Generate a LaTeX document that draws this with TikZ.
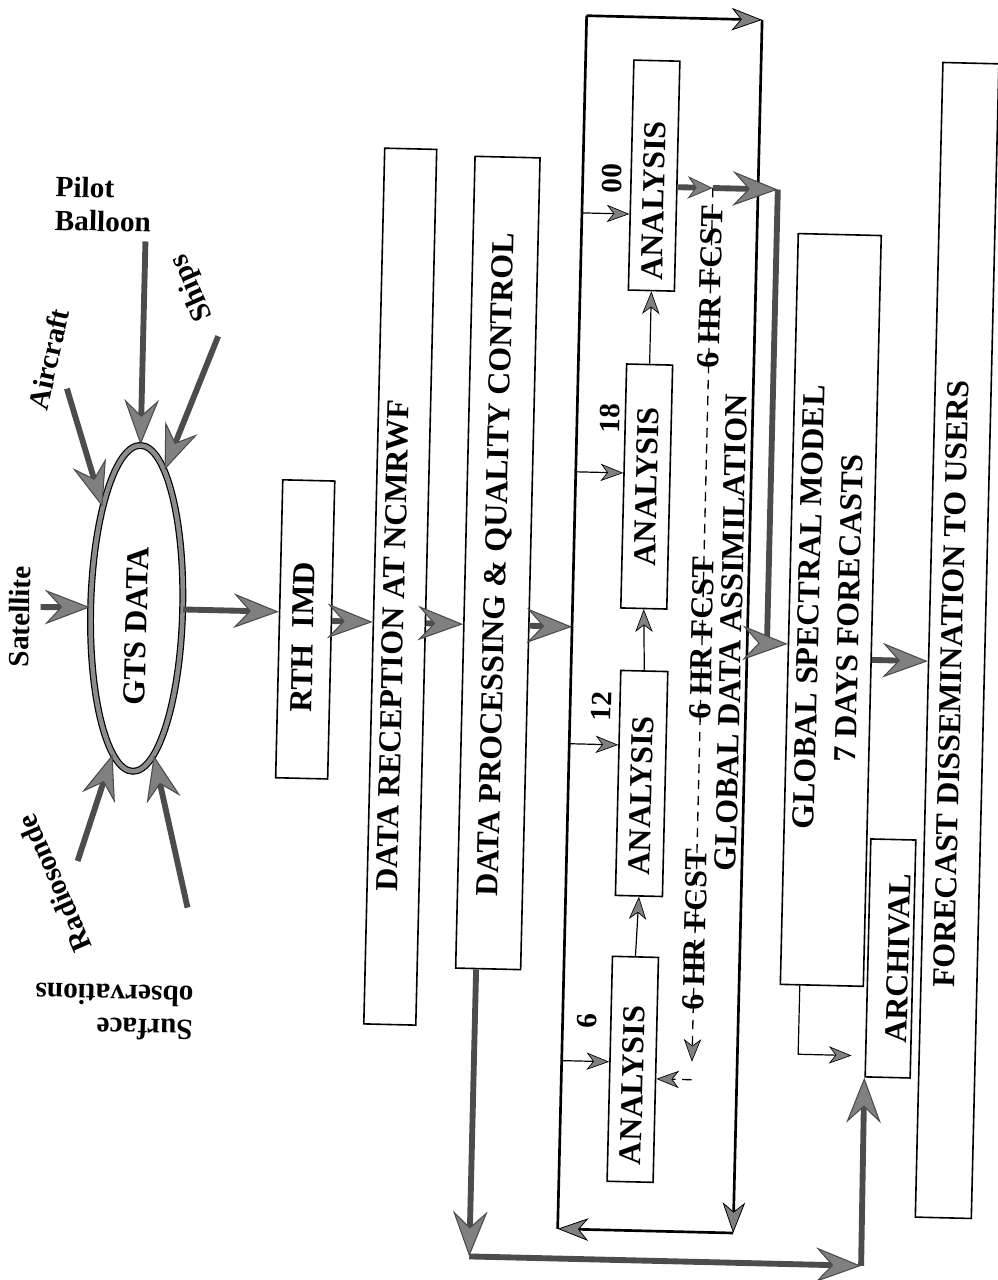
\documentclass[tikz,border=0pt]{standalone}
\usepackage{fontspec}
\setmainfont{Liberation Serif}
\usetikzlibrary{arrows.meta,shapes.geometric,calc}
\tikzset{
  box/.style={draw=black, line width=1.2pt, inner sep=0pt},
  boxtext/.style={font=\fontsize{24}{30}\selectfont\bfseries, rotate=90, inner sep=0pt, align=center},
  sidelab/.style={font=\fontsize{22}{25}\selectfont\bfseries, inner sep=0pt, align=left},
  numlab/.style={font=\fontsize{22}{26}\selectfont\bfseries, rotate=90, inner sep=0pt},
  bigarrow/.style={draw=black!70, line width=4.4pt, line join=miter,
    -{Stealth[length=34pt,width=26pt,inset=12pt,line width=0.8pt,fill=black!50]}},
  bigarrowsm/.style={draw=black!70, line width=4.4pt,
    -{Stealth[length=19pt,width=17pt,inset=6pt,line width=0.7pt,fill=black!50]}},
  medarrow/.style={draw=black, line width=2pt,
    -{Stealth[length=23pt,width=17pt,inset=7pt,line width=0.6pt,fill=black!50]}},
  medline/.style={draw=black, line width=2pt},
  thinarrow/.style={draw=black, line width=0.9pt,
    -{Stealth[length=17pt,width=13pt,inset=5pt,line width=0.5pt,fill=black!50]}},
  fcst/.style={draw=black, line width=1pt, dash pattern=on 7pt off 5pt,
    -{Stealth[length=17pt,width=13pt,inset=5pt,line width=0.5pt,fill=black!50]}},
}
\begin{document}
\begin{tikzpicture}[x=0.75pt, y=-0.75pt]
\fill[white] (0,0) rectangle (997,1280);
\useasboundingbox (0,0) rectangle (997,1280);
\begin{scope}[rotate around={-1.37:(498,640)}, transform shape]

% ---------- nodes ----------
\node[ellipse, draw=black, line width=0.9pt, double=black!45, double distance=3.4pt,
      minimum width=69pt, minimum height=244.5pt, inner sep=0pt] (gts) at (136,617) {};
\node[boxtext] (tGts) at (136,635) {GTS DATA};

\node[box, minimum width=39pt, minimum height=223.5pt] (rth) at (305,634) {};
\node[boxtext] (tRth) at (303,642) {RTH\hspace{0.5em}IMD};

\node[box, minimum width=39pt, minimum height=657pt] (rec) at (399,589) {};
\node[boxtext] (tRec) at (393,648) {DATA RECEPTION AT NCMRWF};

\node[box, minimum width=48.75pt, minimum height=609pt] (proc) at (496,563) {};
\node[boxtext] (tProc) at (496,565) {DATA PROCESSING \& QUALITY CONTROL};

\node[inner sep=0pt, minimum width=131.25pt, minimum height=909.75pt] (gda) at (659.5,620.5) {};
\node[boxtext] (tGda) at (731,627) {GLOBAL DATA ASSIMILATION};

\node[box, minimum width=34.5pt, minimum height=172.5pt] (a00) at (643,172) {};
\node[box, minimum width=34.5pt, minimum height=183pt] (a18) at (643,483) {};
\node[box, minimum width=35.25pt, minimum height=168.75pt] (a12) at (645,780) {};
\node[box, minimum width=34.5pt, minimum height=168.75pt] (a6) at (643,1066) {};
\node[boxtext] (tA00) at (643,197) {ANALYSIS};
\node[boxtext] (tA18) at (643,483) {ANALYSIS};
\node[boxtext] (tA12) at (645,792) {ANALYSIS};
\node[boxtext] (tA6) at (643,1082) {ANALYSIS};
\node[numlab] (n00) at (601,176) {00};
\node[numlab] (n18) at (605,416) {18};
\node[numlab] (n12) at (603,704) {12};
\node[numlab] (n6) at (596,1019) {6};

\node[boxtext] (f1) at (702,282) {6 HR FCST};
\node[boxtext] (f2) at (702,633) {6 HR FCST};
\node[boxtext] (f3) at (702,925) {6 HR FCST};

\node[box, minimum width=62.25pt, minimum height=563.25pt] (gsm) at (830,602) {};
\node[boxtext] (tGsm) at (828,600) {GLOBAL SPECTRAL MODEL\\7 DAYS FORECASTS};

\node[box, minimum width=42pt, minimum height=866.25pt] (fd) at (957,629.5) {};
\node[boxtext] (tFd) at (952,673) {FORECAST DISSEMINATION TO USERS};

\node[box, minimum width=33.75pt, minimum height=178.5pt] (arch) at (898,949) {};
\node[boxtext] (tArch) at (906,949) {ARCHIVAL};

% side labels
\node[sidelab] (tPilot) at (93,214) {Pilot\\Balloon};
\node[sidelab, rotate=79] (tAir) at (42,370) {Aircraft};
\node[sidelab, rotate=115] (tShips) at (184,295) {Ships};
\node[sidelab, rotate=90] (tSat) at (19,628) {Satellite};
\node[sidelab, rotate=115] (tRad) at (60,894) {Radiosonde};
\node[sidelab, rotate=180] (tSurf) at (123,1021) {Surface\\observations};

% ---------- coordinates ----------
\coordinate (pilotS) at (136,250);
\coordinate (airS) at (61,399);
\coordinate (shipS) at (211,343);
\coordinate (satS) at (40,618);
\coordinate (radS) at (83,871);
\coordinate (surfS) at (194,915);
\coordinate (ch2) at (400,625);
\coordinate (r00) at (600,211);
\coordinate (r18) at (600,470);
\coordinate (r12) at (600,742);
\coordinate (r6) at (600,1059);
\coordinate (fcA) at (702,183);
\coordinate (cA) at (767,183);
\coordinate (cD) at (767,637);
\coordinate (fcB) at (702,1057);
\coordinate (fcC) at (702,1075);
\coordinate (lp1) at (484,1257);
\coordinate (lp2) at (876,1257);
\coordinate (ga1) at (808,1047);
\coordinate (gf) at (900,651);

% ---------- connectors ----------
\draw[bigarrow] (pilotS) -- (gts.north);
\draw[bigarrow] (airS) -- (gts.110);
\draw[bigarrow] (shipS) -- (gts.80);
\draw[bigarrow] (satS) -- (gts.west);
\draw[bigarrow] (radS) -- (gts.262);
\draw[bigarrow] (surfS) -- (gts.278);

\draw[bigarrow] (gts.east) -- ($(rth.north west)!(gts.east)!(rth.south west)$);
\draw[bigarrow] ($(rth.north east)!(ch2)!(rth.south east)$) -- ($(rec.north west)!(ch2)!(rec.south west)$);
\draw[bigarrow] ($(rec.north east)!(ch2)!(rec.south east)$) -- ($(proc.north west)!(ch2)!(proc.south west)$);
\draw[bigarrow] ($(proc.north east)!(ch2)!(proc.south east)$) -- ($(gda.north west)!(ch2)!(gda.south west)$);

% GDA loop
\draw[medline] (gda.south west) -- (gda.north west);
\draw[medarrow] (gda.north west) -- (gda.north east);
\draw[medarrow] (gda.north east) -- (gda.south east);
\draw[medarrow] (gda.south east) -- (gda.south west);

% into analysis boxes
\draw[thinarrow] ($(gda.north west)!(r00)!(gda.south west)$) -- ($(a00.north west)!(r00)!(a00.south west)$);
\draw[thinarrow] ($(gda.north west)!(r18)!(gda.south west)$) -- ($(a18.north west)!(r18)!(a18.south west)$);
\draw[thinarrow] ($(gda.north west)!(r12)!(gda.south west)$) -- ($(a12.north west)!(r12)!(a12.south west)$);
\draw[thinarrow] ($(gda.north west)!(r6)!(gda.south west)$) -- ($(a6.north west)!(r6)!(a6.south west)$);
\draw[thinarrow] (a6.north) -- (a12.south);
\draw[thinarrow] (a12.north) -- (a18.south);
\draw[thinarrow] (a18.north) -- (a00.south);

% forecast feedback
\draw[fcst] (fcA) -- (fcB);
\draw[fcst] (fcC) -- ($(a6.north east)!(fcC)!(a6.south east)$);

% 00 analysis to GSM
\draw[bigarrowsm] ($(a00.north east)!(fcA)!(a00.south east)$) -- (fcA);
\draw[bigarrow] (fcA) -- (cA);
\draw[bigarrow] (cA) -- (cD) -- ($(gsm.north west)!(cD)!(gsm.south west)$);

% GSM to FD and archival
\draw[bigarrow] ($(gsm.north east)!(gf)!(gsm.south east)$) -- ($(fd.north west)!(gf)!(fd.south west)$);
\draw[thinarrow, shorten >=10pt] ($(gsm.south west)!(ga1)!(gsm.south east)$) -- (ga1) -- ($(arch.north west)!(ga1)!(arch.south west)$);

% processing to archival loop
\draw[bigarrow] ($(proc.south west)!(lp1)!(proc.south east)$) -- (lp1);
\draw[bigarrow] (lp1) -- (lp2);
\draw[bigarrow] (lp2) -- (arch.south west);

\end{scope}
\end{tikzpicture}
\end{document}
